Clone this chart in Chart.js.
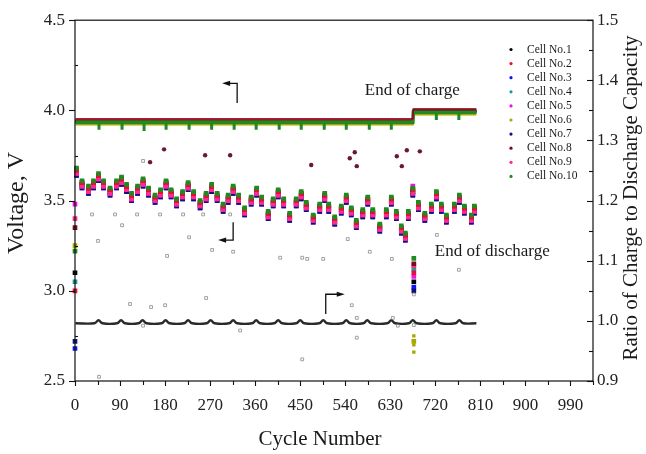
<!DOCTYPE html>
<html>
<head>
<meta charset="utf-8">
<script src="https://cdn.jsdelivr.net/npm/chart.js@4.4.0/dist/chart.umd.min.js"></script>
<style>
html,body{margin:0;padding:0;background:#fff;}
#wrap{width:646px;height:454px;}
</style>
</head>
<body>
<div id="wrap"><canvas id="c" width="646" height="454"></canvas></div>
<script>
// ---------- tick labels ----------
const xTickLabels = ['0','90','180','270','360','450','540','630','720','810','900','990'];
const yLeftTickLabels = ['2.5','3.0','3.5','4.0','4.5'];
const yRightTickLabels = ['0.9','1.0','1.1','1.2','1.3','1.4','1.5'];
const cellNames = ['Cell No.1','Cell No.2','Cell No.3','Cell No.4','Cell No.5','Cell No.6','Cell No.7','Cell No.8','Cell No.9','Cell No.10'];

// ---------- end-of-discharge voltage (V) ----------
const dischargeCycles = [0,3,14,27,37,47,57,70,83,93,103,113,125,136,147,160,171,182,192,203,215,226,237,250,262,273,284,296,306,316,327,339,352,363,373,386,396,406,417,429,442,452,462,476,489,499,507,519,532,542,552,562,575,585,595,609,622,632,642,652,660,666,675,677,686,699,712,722,732,742,758,768,778,792,798];
const dischargeCell1 = [3.10,3.66,3.59,3.56,3.59,3.63,3.59,3.55,3.59,3.61,3.57,3.52,3.56,3.60,3.55,3.51,3.54,3.59,3.54,3.49,3.53,3.58,3.53,3.48,3.52,3.57,3.52,3.46,3.51,3.56,3.51,3.44,3.50,3.55,3.50,3.42,3.49,3.54,3.49,3.41,3.49,3.53,3.47,3.40,3.46,3.52,3.46,3.39,3.45,3.51,3.44,3.37,3.43,3.50,3.43,3.35,3.43,3.50,3.42,3.34,3.30,3.42,3.55,3.05,3.47,3.41,3.46,3.53,3.46,3.40,3.46,3.51,3.45,3.40,3.45];
const dischargeCell2 = [3.00,3.67,3.60,3.57,3.60,3.64,3.60,3.56,3.60,3.62,3.58,3.53,3.57,3.61,3.56,3.52,3.55,3.60,3.55,3.50,3.54,3.59,3.54,3.49,3.53,3.58,3.53,3.47,3.52,3.57,3.52,3.45,3.51,3.56,3.51,3.43,3.50,3.55,3.50,3.42,3.50,3.54,3.48,3.41,3.47,3.53,3.47,3.40,3.46,3.52,3.45,3.38,3.44,3.51,3.44,3.36,3.44,3.51,3.43,3.35,3.31,3.43,3.56,3.10,3.48,3.42,3.47,3.54,3.47,3.41,3.47,3.52,3.46,3.41,3.46];
const dischargeCell3 = [2.68,3.64,3.57,3.54,3.57,3.61,3.57,3.53,3.57,3.59,3.55,3.50,3.54,3.58,3.53,3.49,3.52,3.57,3.52,3.47,3.51,3.56,3.51,3.46,3.50,3.55,3.50,3.44,3.49,3.54,3.49,3.42,3.48,3.53,3.48,3.40,3.47,3.52,3.47,3.39,3.47,3.51,3.45,3.38,3.44,3.50,3.44,3.37,3.43,3.49,3.42,3.35,3.41,3.48,3.41,3.33,3.41,3.48,3.40,3.32,3.28,3.40,3.53,3.02,3.45,3.39,3.44,3.51,3.44,3.38,3.44,3.49,3.43,3.38,3.43];
const dischargeCell4 = [3.05,3.66,3.59,3.56,3.59,3.63,3.59,3.55,3.59,3.61,3.57,3.52,3.56,3.60,3.55,3.51,3.54,3.59,3.54,3.49,3.53,3.58,3.53,3.48,3.52,3.57,3.52,3.46,3.51,3.56,3.51,3.44,3.50,3.55,3.50,3.42,3.49,3.54,3.49,3.41,3.49,3.53,3.47,3.40,3.46,3.52,3.46,3.39,3.45,3.51,3.44,3.37,3.43,3.50,3.43,3.35,3.43,3.50,3.42,3.34,3.30,3.42,3.55,3.12,3.47,3.41,3.46,3.53,3.46,3.40,3.46,3.51,3.45,3.40,3.45];
const dischargeCell5 = [3.48,3.65,3.58,3.55,3.58,3.62,3.58,3.54,3.58,3.60,3.56,3.51,3.55,3.59,3.54,3.50,3.53,3.58,3.53,3.48,3.52,3.57,3.52,3.47,3.51,3.56,3.51,3.45,3.50,3.55,3.50,3.43,3.49,3.54,3.49,3.41,3.48,3.53,3.48,3.40,3.48,3.52,3.46,3.39,3.45,3.51,3.45,3.38,3.44,3.50,3.43,3.36,3.42,3.49,3.42,3.34,3.42,3.49,3.41,3.33,3.29,3.41,3.58,3.08,3.46,3.40,3.45,3.52,3.45,3.39,3.45,3.50,3.44,3.39,3.44];
const dischargeCell6 = [3.25,3.66,3.59,3.56,3.59,3.63,3.59,3.55,3.59,3.61,3.57,3.52,3.56,3.60,3.55,3.51,3.54,3.59,3.54,3.49,3.53,3.58,3.53,3.48,3.52,3.57,3.52,3.46,3.51,3.56,3.51,3.44,3.50,3.55,3.50,3.42,3.49,3.54,3.49,3.41,3.49,3.53,3.47,3.40,3.46,3.52,3.46,3.39,3.45,3.51,3.44,3.37,3.43,3.50,3.43,3.35,3.43,3.50,3.42,3.34,3.30,3.42,3.55,2.72,3.47,3.41,3.46,3.53,3.46,3.40,3.46,3.51,3.45,3.40,3.45];
const dischargeCell7 = [2.72,3.64,3.57,3.54,3.57,3.61,3.57,3.53,3.57,3.59,3.55,3.50,3.54,3.58,3.53,3.49,3.52,3.57,3.52,3.47,3.51,3.56,3.51,3.46,3.50,3.55,3.50,3.44,3.49,3.54,3.49,3.42,3.48,3.53,3.48,3.40,3.47,3.52,3.47,3.39,3.47,3.51,3.45,3.38,3.44,3.50,3.44,3.37,3.43,3.49,3.42,3.35,3.41,3.48,3.41,3.33,3.41,3.48,3.40,3.32,3.28,3.40,3.53,3.00,3.45,3.39,3.44,3.51,3.44,3.38,3.44,3.49,3.43,3.38,3.43];
const dischargeCell8 = [3.35,3.67,3.60,3.57,3.60,3.64,3.60,3.56,3.60,3.62,3.58,3.53,3.57,3.61,3.56,3.52,3.55,3.60,3.55,3.50,3.54,3.59,3.54,3.49,3.53,3.58,3.53,3.47,3.52,3.57,3.52,3.45,3.51,3.56,3.51,3.43,3.50,3.55,3.50,3.42,3.50,3.54,3.48,3.41,3.47,3.53,3.47,3.40,3.46,3.52,3.45,3.38,3.44,3.51,3.44,3.36,3.44,3.51,3.43,3.35,3.31,3.43,3.56,3.15,3.48,3.42,3.47,3.54,3.47,3.41,3.47,3.52,3.46,3.41,3.46];
const dischargeCell9 = [3.40,3.65,3.58,3.55,3.58,3.62,3.58,3.54,3.58,3.60,3.56,3.51,3.55,3.59,3.54,3.50,3.53,3.58,3.53,3.48,3.52,3.57,3.52,3.47,3.51,3.56,3.51,3.45,3.50,3.55,3.50,3.43,3.49,3.54,3.49,3.41,3.48,3.53,3.48,3.40,3.48,3.52,3.46,3.39,3.45,3.51,3.45,3.38,3.44,3.50,3.43,3.36,3.42,3.49,3.42,3.34,3.42,3.49,3.41,3.33,3.29,3.41,3.54,3.14,3.46,3.40,3.45,3.52,3.45,3.39,3.45,3.50,3.44,3.39,3.44];
const dischargeCell10 = [3.22,3.68,3.61,3.58,3.61,3.65,3.61,3.57,3.61,3.63,3.59,3.54,3.58,3.62,3.57,3.53,3.56,3.61,3.56,3.51,3.55,3.60,3.55,3.50,3.54,3.59,3.54,3.48,3.53,3.58,3.53,3.46,3.52,3.57,3.52,3.44,3.51,3.56,3.51,3.43,3.51,3.55,3.49,3.42,3.48,3.54,3.48,3.41,3.47,3.53,3.46,3.39,3.45,3.52,3.45,3.37,3.45,3.52,3.44,3.36,3.32,3.44,3.57,3.18,3.49,3.43,3.48,3.55,3.48,3.42,3.48,3.53,3.47,3.42,3.47];

// ---------- end-of-charge voltage (V) ----------
const chargeCycles = [1,675,676,802];
const chargeCell1 = [3.940,3.940,3.995,3.995];
const chargeCell2 = [3.950,3.950,4.005,4.005];
const chargeCell3 = [3.938,3.938,3.993,3.993];
const chargeCell4 = [3.935,3.935,3.990,3.990];
const chargeCell5 = [3.940,3.940,3.995,3.995];
const chargeCell6 = [3.922,3.922,3.978,3.978];
const chargeCell7 = [3.938,3.938,3.993,3.993];
const chargeCell8 = [3.953,3.953,4.008,4.008];
const chargeCell9 = [3.943,3.943,3.998,3.998];
const chargeCell10 = [3.935,3.935,3.990,3.990];
const chargeDipCycles = [48,94,138,182,228,273,318,362,408,452,498,542,588,632,722,767];
const chargeDipVolts = [3.912,3.912,3.905,3.912,3.912,3.912,3.912,3.912,3.912,3.912,3.912,3.912,3.912,3.912,3.966,3.966];

// ---------- ratio of charge to discharge capacity ----------
const ratioCycles = [1,39,47,55,84,92,100,127,135,143,173,181,189,218,226,234,263,271,279,308,316,324,354,362,370,398,406,414,442,450,458,488,496,504,534,542,550,576,584,592,624,632,640,667,675,683,714,722,730,760,768,776,802];
const ratioValues = [0.996,0.996,1.001,0.996,0.996,1.001,0.996,0.996,1.001,0.996,0.996,1.001,0.996,0.996,1.001,0.996,0.996,1.001,0.996,0.996,1.001,0.996,0.996,1.001,0.996,0.996,1.001,0.996,0.996,1.001,0.996,0.996,1.001,0.996,0.996,1.001,0.996,0.996,1.001,0.996,0.996,1.001,0.996,0.996,1.001,0.996,0.996,1.001,0.996,0.996,1.001,0.996,0.996];
const ratioStrayCycles = [34,80,124,170,216,256,310,94,46,228,136,184,274,316,410,454,464,496,545,589,633,723,767,110,152,180,262,136,330,454,48,553,563,563,635,645,677,677];
const ratioStrayValues = [1.177,1.177,1.177,1.177,1.177,1.177,1.177,1.159,1.133,1.139,1.266,1.108,1.118,1.115,1.105,1.105,1.103,1.103,1.136,1.115,1.103,1.143,1.085,1.028,1.023,1.026,1.038,0.992,0.984,0.936,0.907,1.026,1.005,0.972,1.005,0.992,1.044,0.993];

// ---------- stray voltage points ----------
const cell8StrayCycles = [178,150,260,310,472,549,559,563,643,653,663,689];
const cell8StrayVolts = [3.784,3.713,3.751,3.751,3.697,3.735,3.768,3.691,3.746,3.691,3.779,3.773];
const cell6StrayCycles = [677,677,677];
const cell6StrayVolts = [2.75,2.70,2.66];

// ---------- styles ----------
const cellColors = ['#000000','#e8102e','#1010ff','#1a9a9a','#ee10ee','#a8a800','#10107a','#7a0a1e','#ff2a8a','#1f8a1f'];
const dischargeOrder = [10,4,9,10,7,10,8,5,6,3];
const chargeOrder = [21,17,21,21,21,22,21,16,21,18];
const chargeWidth = [2,1.6,2,2,2,2.2,2,1.4,2,3.6];
const serif = '"Liberation Serif", "Times New Roman", serif';

const dischargeSets = [dischargeCell1,dischargeCell2,dischargeCell3,dischargeCell4,dischargeCell5,dischargeCell6,dischargeCell7,dischargeCell8,dischargeCell9,dischargeCell10];
const chargeSets = [chargeCell1,chargeCell2,chargeCell3,chargeCell4,chargeCell5,chargeCell6,chargeCell7,chargeCell8,chargeCell9,chargeCell10];
const pts = (xs, ys) => xs.map((x, i) => ({x: x, y: ys[i]}));

const datasets = [];
chargeSets.forEach((s, i) => datasets.push({
  type: 'line', label: cellNames[i] + ' charge', data: pts(chargeCycles, s), yAxisID: 'y',
  borderColor: cellColors[i], borderWidth: chargeWidth[i], pointRadius: 0, tension: 0, order: chargeOrder[i]
}));
datasets.push({
  type: 'scatter', label: 'charge dips', data: pts(chargeDipCycles, chargeDipVolts), yAxisID: 'y',
  pointStyle: 'line', pointRotation: 90, pointRadius: 3.5, pointBorderWidth: 3,
  pointBorderColor: cellColors[9], borderColor: cellColors[9], order: 15
});
dischargeSets.forEach((s, i) => datasets.push({
  type: 'scatter', label: cellNames[i], data: pts(dischargeCycles, s), yAxisID: 'y',
  pointStyle: 'rect', pointRadius: 3.3, pointBackgroundColor: cellColors[i], backgroundColor: cellColors[i],
  pointBorderWidth: 0, borderWidth: 0, order: dischargeOrder[i], clip: 8
}));
datasets.push({
  type: 'line', label: 'ratio', data: pts(ratioCycles, ratioValues), yAxisID: 'y2',
  borderColor: '#2a2a2a', borderWidth: 2.4, pointRadius: 0, tension: 0.4, order: 30
});
datasets.push({
  type: 'scatter', label: 'ratio stray', data: pts(ratioStrayCycles, ratioStrayValues), yAxisID: 'y2',
  pointStyle: 'rect', pointRadius: 2, pointBorderColor: '#8a8a8a', pointBorderWidth: 0.8,
  pointBackgroundColor: 'rgba(255,255,255,0)', order: 2
});
datasets.push({
  type: 'scatter', label: 'cell8 stray', data: pts(cell8StrayCycles, cell8StrayVolts), yAxisID: 'y',
  pointStyle: 'circle', pointRadius: 2.2, pointBackgroundColor: '#6b1a2e', pointBorderWidth: 0, order: 1
});
datasets.push({
  type: 'scatter', label: 'cell6 stray', data: pts(cell6StrayCycles, cell6StrayVolts), yAxisID: 'y',
  pointStyle: 'rect', pointRadius: 2.4, pointBackgroundColor: cellColors[5], pointBorderWidth: 0, order: 1
});

// ---------- annotation layout ----------
const notes = [
  {text: 'End of charge', cycle: 579, volt: 4.112},
  {text: 'End of discharge', cycle: 719, volt: 3.216}
];
const arrows = [
  {start: [324, 4.041], corner: [324, 4.150], tip: [294, 4.150]},
  {start: [316, 3.380], corner: [316, 3.281], tip: [286, 3.281]},
  {start: [501, 2.872], corner: [501, 2.981], tip: [539, 2.981]}
];

const decor = {
  id: 'decor',
  afterDraw(chart) {
    const ctx = chart.ctx, a = chart.chartArea, sx = chart.scales.x, sy = chart.scales.y, sy2 = chart.scales.y2;
    ctx.save();
    ctx.strokeStyle = '#111';
    ctx.lineWidth = 1.2;
    ctx.strokeRect(a.left, a.top, a.right - a.left, a.bottom - a.top);
    const seg = (x1, y1, x2, y2) => { ctx.beginPath(); ctx.moveTo(x1, y1); ctx.lineTo(x2, y2); ctx.stroke(); };
    ctx.lineWidth = 1.1;
    sx.ticks.forEach(t => {
      const px = Math.round(sx.getPixelForValue(t.value)) + 0.5;
      const major = Math.round(t.value) % 90 === 0;
      seg(px, a.bottom, px, a.bottom + (major ? 5 : 4));
    });
    sy.ticks.forEach(t => {
      const py = Math.round(sy.getPixelForValue(t.value)) + 0.5;
      const major = Math.round((t.value - 2.5) / 0.25) % 2 === 0;
      if (major) seg(a.left - 6, py, a.left, py); else seg(a.left, py, a.left + 3, py);
    });
    sy2.ticks.forEach(t => {
      const py = Math.round(sy2.getPixelForValue(t.value)) + 0.5;
      const major = Math.round((t.value - 0.9) / 0.05) % 2 === 0;
      seg(a.right - (major ? 6 : 4), py, a.right, py);
    });
    // titles
    ctx.fillStyle = '#1a1a1a';
    ctx.textAlign = 'center';
    ctx.textBaseline = 'middle';
    ctx.font = '21px ' + serif;
    ctx.fillText('Cycle Number', 320, 439);
    ctx.save(); ctx.translate(17, 203); ctx.rotate(-Math.PI / 2);
    ctx.font = '24px ' + serif; ctx.fillText('Voltage, V', 0, 0); ctx.restore();
    ctx.save(); ctx.translate(631, 198); ctx.rotate(-Math.PI / 2);
    ctx.font = '21px ' + serif; ctx.fillText('Ratio of Charge to Discharge Capacity', 0, 0); ctx.restore();
    // notes
    ctx.textAlign = 'left';
    ctx.font = '17px ' + serif;
    notes.forEach(n => ctx.fillText(n.text, sx.getPixelForValue(n.cycle), sy.getPixelForValue(n.volt)));
    // arrows
    ctx.strokeStyle = '#111'; ctx.fillStyle = '#111'; ctx.lineWidth = 1.3;
    arrows.forEach(ar => {
      const x0 = sx.getPixelForValue(ar.start[0]), y0 = sy.getPixelForValue(ar.start[1]);
      const x1 = sx.getPixelForValue(ar.corner[0]), y1 = sy.getPixelForValue(ar.corner[1]);
      const x2 = sx.getPixelForValue(ar.tip[0]), y2 = sy.getPixelForValue(ar.tip[1]);
      const dir = Math.sign(x2 - x1);
      ctx.beginPath(); ctx.moveTo(x0, y0); ctx.lineTo(x1, y1); ctx.lineTo(x2 - dir * 6, y2); ctx.stroke();
      ctx.beginPath(); ctx.moveTo(x2, y2); ctx.lineTo(x2 - dir * 8, y2 - 2.6); ctx.lineTo(x2 - dir * 8, y2 + 2.6); ctx.closePath(); ctx.fill();
    });
    // legend
    ctx.font = '11.5px ' + serif;
    ctx.textBaseline = 'middle';
    cellNames.forEach((name, i) => {
      const y = 49.5 + i * 14.1;
      ctx.fillStyle = cellColors[i];
      ctx.beginPath(); ctx.arc(511, y, 1.6, 0, Math.PI * 2); ctx.fill();
      ctx.fillStyle = '#1a1a1a';
      ctx.fillText(name, 527, y);
    });
    ctx.restore();
  }
};

const tickFont = {family: serif, size: 17};
new Chart(document.getElementById('c'), {
  type: 'scatter',
  data: {datasets: datasets},
  options: {
    responsive: false, animation: false, devicePixelRatio: 1,
    layout: {padding: {top: 15, left: 0, right: 0, bottom: 0}},
    plugins: {legend: {display: false}, tooltip: {enabled: false}},
    scales: {
      x: {
        type: 'linear', position: 'bottom', min: 0, max: 1035,
        grid: {display: false, drawTicks: false}, border: {display: false},
        ticks: {stepSize: 45, autoSkip: false, maxRotation: 0, padding: 14, color: '#222', font: tickFont,
          callback: v => (Math.round(v) % 90 === 0 ? xTickLabels[Math.round(v) / 90] : '')},
        afterFit: s => { s.height = 73; }
      },
      y: {
        type: 'linear', position: 'left', min: 2.5, max: 4.5,
        grid: {display: false, drawTicks: false}, border: {display: false},
        ticks: {stepSize: 0.25, autoSkip: false, padding: 10, color: '#222', font: tickFont,
          callback: v => { const k = Math.round((v - 2.5) / 0.25); return k % 2 === 0 ? yLeftTickLabels[k / 2] : ''; }},
        afterFit: s => { s.width = 75; }
      },
      y2: {
        type: 'linear', position: 'right', min: 0.9, max: 1.5,
        grid: {display: false, drawTicks: false}, border: {display: false},
        ticks: {stepSize: 0.05, autoSkip: false, padding: 4, color: '#222', font: tickFont,
          callback: v => { const k = Math.round((v - 0.9) / 0.05); return k % 2 === 0 ? yRightTickLabels[k / 2] : ''; }},
        afterFit: s => { s.width = 53; }
      }
    }
  },
  plugins: [decor]
});
</script>
</body>
</html>
